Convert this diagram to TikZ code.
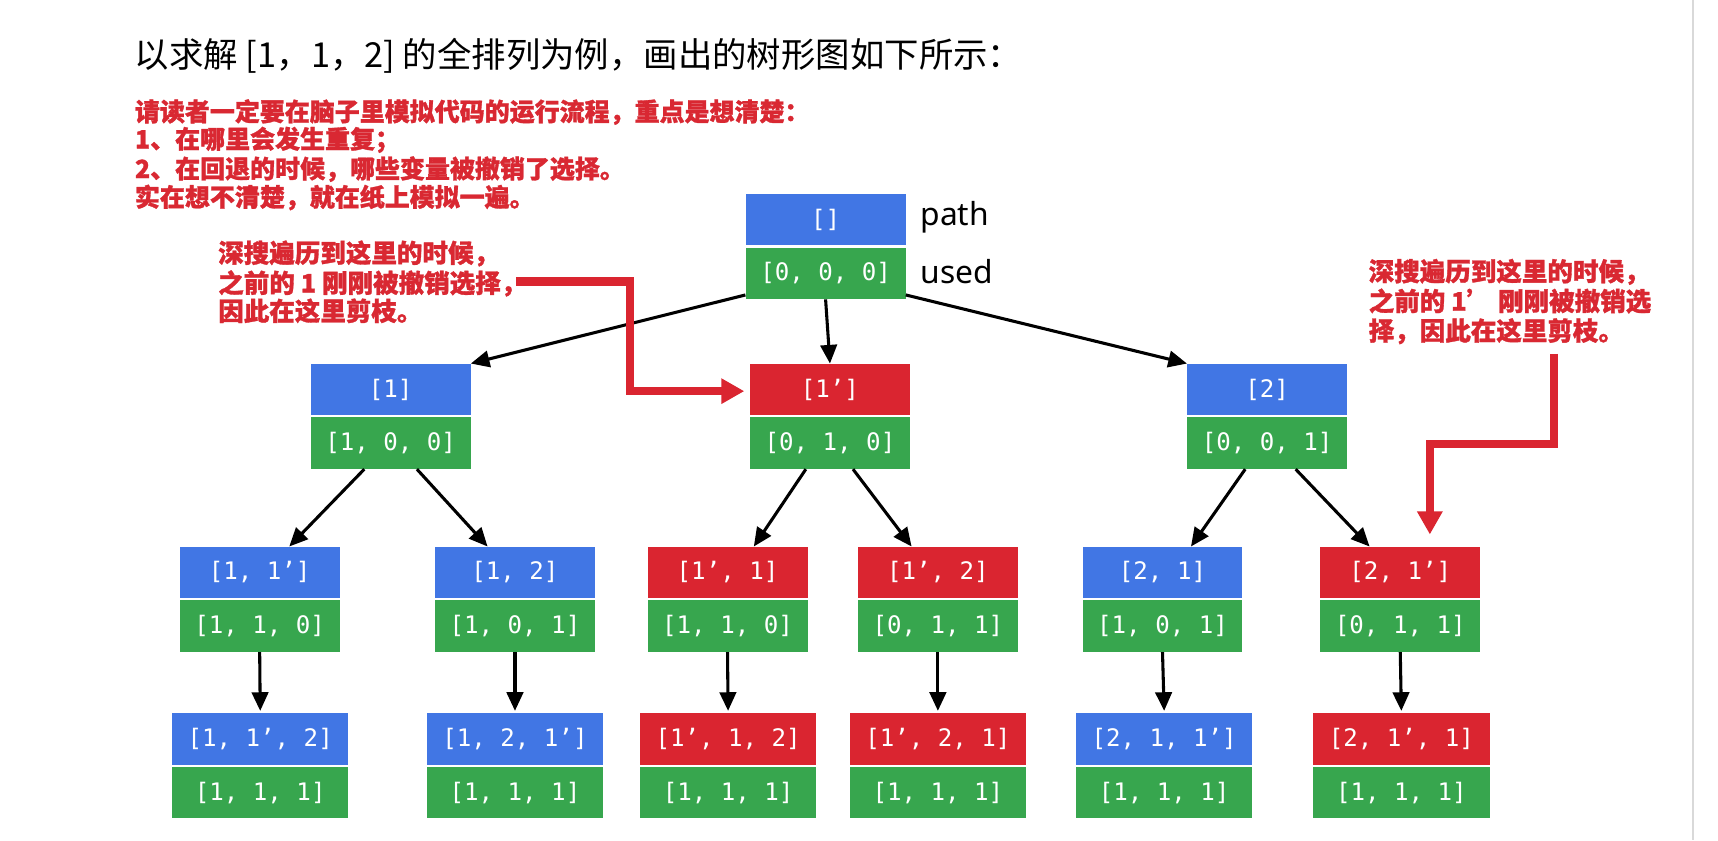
\documentclass[tikz,border=0pt]{standalone}
\usepackage{fontspec}
\setmainfont{Noto Sans}
\setmonofont{DejaVu Sans Mono}
\newfontfamily\cjk[BoldFeatures={FakeBold=1.2}]{Noto Sans CJK SC}
\usetikzlibrary{arrows.meta}
\definecolor{bl}{HTML}{4176E4}
\definecolor{gr}{HTML}{37A64E}
\definecolor{rd}{HTML}{DA2530}
\definecolor{rt}{HTML}{D92832}
\tikzset{
  box/.style={rectangle, inner sep=0pt, minimum width=146pt, minimum height=47pt, text=white, font=\ttfamily\fontsize{22}{22}\selectfont},
  pbox/.style={box, fill=bl},
  rbox/.style={box, fill=rd},
  ubox/.style={box, fill=gr},
  wide/.style={minimum width=161pt},
  arr/.style={draw=black, line width=2.8pt, -{Triangle[length=17pt,width=15pt]}},
  rarr/.style={draw=rd, line width=7.5pt, -{Triangle[length=21pt,width=22pt]}},
  ttl/.style={anchor=base west, inner sep=0pt, text=black, font=\cjk\fontsize{31.4}{31.4}\selectfont},
  redl/.style={anchor=base west, inner sep=0pt, text=rt, font=\cjk\bfseries\fontsize{22.8}{22.8}\selectfont},
  redn/.style={redl, font=\cjk\bfseries\fontsize{23.3}{23.3}\selectfont},
  lab/.style={anchor=base west, inner sep=0pt, text=black, font=\fontsize{29}{29}\selectfont},
}
\begin{document}
\begin{tikzpicture}[x=1pt,y=-1pt]
\useasboundingbox[fill=white] (0,0) rectangle (1568,767);
\fill[gray!30] (1544,0) rectangle (1546,767);

% texts
\node[ttl] (title) at (123,62) {以求解 [1，1，2] 的全排列为例，画出的树形图如下所示：};
\node[redl] (r1) at (123,110.4) {请读者一定要在脑子里模拟代码的运行流程，重点是想清楚：};
\node[redl] (r2) at (123,135.4) {1、在哪里会发生重复；};
\node[redl] (r3) at (123,162.5) {2、在回退的时候，哪些变量被撤销了选择。};
\node[redl] (r4) at (123,188.4) {实在想不清楚，就在纸上模拟一遍。};

\node[redn] (n1) at (199,239.6) {深搜遍历到这里的时候，};
\node[redn] (n2) at (199,267) {之前的 1 刚刚被撤销选择，};
\node[redn] (n3) at (199,292.6) {因此在这里剪枝。};

\node[redn] (m1) at (1249,256.4) {深搜遍历到这里的时候，};
\node[redn] (m2) at (1249,283.6) {之前的 1’ 刚刚被撤销选};
\node[redn] (m3) at (1249,310.6) {择，因此在这里剪枝。};

% root
\node[pbox] (pR) at (753.5,200.5) {[]};
\node[ubox] (uR) at (753.5,249.5) {[0, 0, 0]};
\node[lab] (lp) at (840,206) {path};
\node[lab] (lu) at (840,259) {used};

% level 1
\node[pbox] (pA) at (356.5,355.5) {[1]};
\node[ubox] (uA) at (356.5,404.5) {[1, 0, 0]};
\node[rbox] (pB) at (757.5,355.5) {[1’]};
\node[ubox] (uB) at (757.5,404.5) {[0, 1, 0]};
\node[pbox] (pC) at (1156.5,355.5) {[2]};
\node[ubox] (uC) at (1156.5,404.5) {[0, 0, 1]};

% level 2
\node[pbox] (pAA) at (237,522.5) {[1, 1’]};
\node[ubox] (uAA) at (237,571.5) {[1, 1, 0]};
\node[pbox] (pAB) at (470,522.5) {[1, 2]};
\node[ubox] (uAB) at (470,571.5) {[1, 0, 1]};
\node[rbox] (pBA) at (664,522.5) {[1’, 1]};
\node[ubox] (uBA) at (664,571.5) {[1, 1, 0]};
\node[rbox] (pBB) at (856,522.5) {[1’, 2]};
\node[ubox] (uBB) at (856,571.5) {[0, 1, 1]};
\node[pbox] (pCA) at (1061,522.5) {[2, 1]};
\node[ubox] (uCA) at (1061,571.5) {[1, 0, 1]};
\node[rbox] (pCB) at (1278,522.5) {[2, 1’]};
\node[ubox] (uCB) at (1278,571.5) {[0, 1, 1]};

% leaves
\node[pbox,wide] (pAAA) at (237.5,674.5) {[1, 1’, 2]};
\node[ubox,wide] (uAAA) at (237.5,723.5) {[1, 1, 1]};
\node[pbox,wide] (pABA) at (470,674.5) {[1, 2, 1’]};
\node[ubox,wide] (uABA) at (470,723.5) {[1, 1, 1]};
\node[rbox,wide] (pBAA) at (664.5,674.5) {[1’, 1, 2]};
\node[ubox,wide] (uBAA) at (664.5,723.5) {[1, 1, 1]};
\node[rbox,wide] (pBBA) at (856,674.5) {[1’, 2, 1]};
\node[ubox,wide] (uBBA) at (856,723.5) {[1, 1, 1]};
\node[pbox,wide] (pCAA) at (1062.5,674.5) {[2, 1, 1’]};
\node[ubox,wide] (uCAA) at (1062.5,723.5) {[1, 1, 1]};
\node[rbox,wide] (pCBA) at (1279,674.5) {[2, 1’, 1]};
\node[ubox,wide] (uCBA) at (1279,723.5) {[1, 1, 1]};

% black arrows
\draw[arr] ([yshift=4pt]uR.south west) -- (pA.north east);
\draw[arr] (uR.south) -- (pB.north);
\draw[arr] ([yshift=4pt]uR.south east) -- (pC.north west);

\draw[arr] ([xshift=-24pt]uA.south) -- ([xshift=27pt]pAA.north);
\draw[arr] ([xshift=24pt]uA.south) -- ([xshift=-25pt]pAB.north);
\draw[arr] ([xshift=-22pt]uB.south) -- ([xshift=24pt]pBA.north);
\draw[arr] ([xshift=21pt]uB.south) -- ([xshift=-24pt]pBB.north);
\draw[arr] ([xshift=-20pt]uC.south) -- ([xshift=26pt]pCA.north);
\draw[arr] ([xshift=26pt]uC.south) -- ([xshift=-28pt]pCB.north);

\draw[arr] (uAA.south) -- ([yshift=2pt]pAAA.north);
\draw[arr] (uAB.south) -- ([yshift=2pt]pABA.north);
\draw[arr] (uBA.south) -- ([yshift=2pt]pBAA.north);
\draw[arr] (uBB.south) -- ([yshift=2pt]pBBA.north);
\draw[arr] (uCA.south) -- ([yshift=2pt]pCAA.north);
\draw[arr] (uCB.south) -- ([yshift=2pt]pCBA.north);

% red arrows
\coordinate (a1) at (471,257);
\draw[rarr] (a1) -- (575,257) -- (575,357) -- ([xshift=-5pt,yshift=-1.5pt]pB.west);
\coordinate (a2) at (1418,323);
\draw[rarr] (a2) -- (1418,405) -- (1305,405) -- ([xshift=27pt,yshift=11pt]pCB.north);
\end{tikzpicture}
\end{document}
